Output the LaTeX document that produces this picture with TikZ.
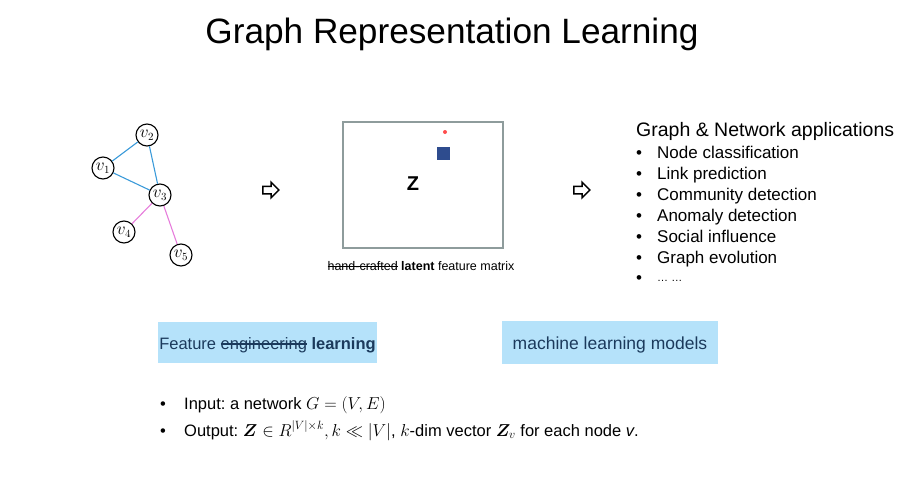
\documentclass[tikz,border=0pt]{standalone}
\usepackage{fontspec}
\setmainfont{Liberation Sans}
\usepackage{amsmath,amssymb,bm}
\usetikzlibrary{shapes.arrows}
\frenchspacing
\newcommand\mystrike[1]{\leavevmode\setbox0\hbox{#1}\rlap{\rule[0.27em]{\wd0}{0.07em}}\box0\relax}
\definecolor{edgeblue}{HTML}{3A9AD9}
\definecolor{edgepink}{HTML}{E67DDB}
\definecolor{boxblue}{HTML}{B5E2FA}
\definecolor{boxtext}{HTML}{1B3A5C}
\definecolor{sqblue}{HTML}{2E4C8E}
\definecolor{framegray}{HTML}{8E9C9C}
\tikzset{
  gnode/.style={circle,draw=black,line width=1.1pt,fill=white,minimum size=22pt,inner sep=0pt,font=\fontsize{16}{16}\selectfont},
  bedge/.style={edgeblue,line width=1.1pt},
  pedge/.style={edgepink,line width=1.1pt},
  hollow/.style={single arrow,draw=black,line width=1.5pt,fill=white,minimum height=16pt,inner xsep=0pt,inner ysep=3pt,single arrow head extend=4pt},
  lbox/.style={fill=boxblue,inner sep=0pt},
  ltext/.style={text=boxtext,inner sep=0pt,anchor=base},
  item/.style={anchor=base west,inner sep=0pt,font=\fontsize{17}{18}\selectfont},
  dot/.style={anchor=base west,inner sep=0pt,font=\fontsize{17}{18}\selectfont}
}
\begin{document}
\begin{tikzpicture}[x=1pt,y=-1pt]
\useasboundingbox (0,0) rectangle (910,501);
% title
\node[anchor=base,inner sep=0pt,font=\fontsize{35.2}{36}\selectfont] (title) at (452,43) {Graph Representation Learning};
% graph
\node[gnode] (v1) at (103,168) {$v_1$};
\node[gnode] (v2) at (147,135) {$v_2$};
\node[gnode] (v3) at (160,195) {$v_3$};
\node[gnode] (v4) at (124,232) {$v_4$};
\node[gnode] (v5) at (181,255) {$v_5$};
\draw[bedge] (v1) -- (v2);
\draw[bedge] (v1) -- (v3);
\draw[bedge] (v2) -- (v3);
\draw[pedge] (v3) -- (v4);
\draw[pedge] (v3) -- (v5);
% arrows
\node[hollow] (arr1) at (269,190) {};
\node[hollow] (arr2) at (580,190) {};
% matrix
\node[draw=framegray,line width=1.3pt,minimum width=160pt,minimum height=126pt,inner sep=0pt] (mat) at (423,185) {};
\node[circle,fill=red!70,minimum size=4pt,inner sep=0pt] (rdot) at (445,132) {};
\node[fill=sqblue,minimum size=13pt,inner sep=0pt] (sq) at (443,153) {};
\node[font=\fontsize{20}{20}\selectfont\bfseries] (z) at (413,184) {Z};
\node[anchor=base,inner sep=0pt,font=\fontsize{12.5}{14}\selectfont] (cap) at (421,270) {\mystrike{hand-crafted} \textbf{latent} feature matrix};
% applications
\node[anchor=base west,inner sep=0pt,font=\fontsize{19.5}{20}\selectfont] (apph) at (636,136) {Graph \& Network applications};
\node[dot] (b1) at (636,158) {•}; \node[item] (i1) at (657,158) {Node classification};
\node[dot] (b2) at (636,179) {•}; \node[item] (i2) at (657,179) {Link prediction};
\node[dot] (b3) at (636,200) {•}; \node[item] (i3) at (657,200) {Community detection};
\node[dot] (b4) at (636,221) {•}; \node[item] (i4) at (657,221) {Anomaly detection};
\node[dot] (b5) at (636,242) {•}; \node[item] (i5) at (657,242) {Social influence};
\node[dot] (b6) at (636,263) {•}; \node[item] (i6) at (657,263) {Graph evolution};
\node[dot] (b7) at (636,283) {•}; \node[item,font=\fontsize{11}{12}\selectfont] (i7) at (657,281) {\dots\ \dots};
% blue boxes
\node[lbox,minimum width=219pt,minimum height=41pt] (fbox) at (267.5,342.5) {};
\node[ltext,font=\fontsize{16.5}{18}\selectfont] (ftext) at (267.5,349) {Feature \mystrike{engineering} \textbf{learning}};
\node[lbox,minimum width=216pt,minimum height=43pt] (mbox) at (610,342.5) {};
\node[ltext,font=\fontsize{17.5}{18}\selectfont] (mtext) at (610,349) {machine learning models};
% bottom bullets
\node[anchor=base west,inner sep=0pt,font=\fontsize{16.5}{18}\selectfont] (bb1) at (160,409) {•};
\node[anchor=base west,inner sep=0pt,font=\fontsize{16.5}{18}\selectfont] (in) at (184,409) {Input: a network $G=(V,E)$};
\node[anchor=base west,inner sep=0pt,font=\fontsize{16.5}{18}\selectfont] (bb2) at (160,436) {•};
\node[anchor=base west,inner sep=0pt,font=\fontsize{16.5}{18}\selectfont] (out) at (184,436) {Output: $\bm{Z}\in R^{|V|\times k}, k\ll |V|$, $k$-dim vector $\bm{Z}_v$ for each node \textit{v}.};
\end{tikzpicture}
\end{document}
